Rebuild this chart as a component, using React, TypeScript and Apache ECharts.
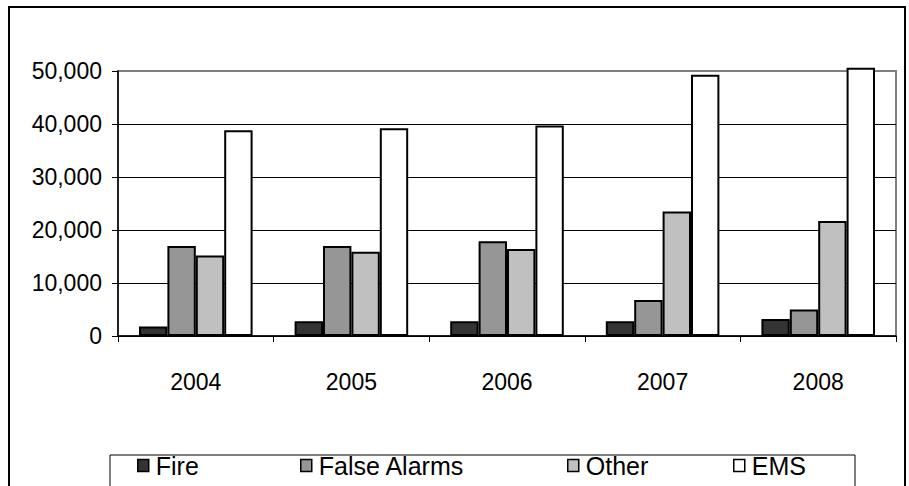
import React, { useEffect, useRef } from "react";
import * as echarts from "echarts";

const categories = ["2004", "2005", "2006", "2007", "2008"];
const fire = [1800, 2800, 2800, 2800, 3200];
const falseAlarms = [17000, 17000, 17900, 6800, 5000];
const other = [15200, 15900, 16400, 23500, 21700];
const ems = [38800, 39200, 39700, 49300, 50600];
const seriesNames = ["Fire", "False Alarms", "Other", "EMS"];
const seriesColors = ["#333333", "#969696", "#c0c0c0", "#ffffff"];
const yTicks = [0, 10000, 20000, 30000, 40000, 50000];

const FONT = "Arial, 'Liberation Sans', sans-serif";

export default function App() {
  const ref = useRef<HTMLDivElement>(null);
  useEffect(() => {
    if (!ref.current) return;
    const chart = echarts.init(ref.current, null, { renderer: "svg" });
    const values = [fire, falseAlarms, other, ems];
    const legendLefts = [137, 300, 567, 733];
    chart.setOption({
      animation: false,
      backgroundColor: "#ffffff",
      textStyle: { fontFamily: FONT },
      grid: {
        left: 118,
        right: 13,
        top: 71,
        bottom: 150,
        show: true,
        borderColor: "#808080",
        borderWidth: 2,
        backgroundColor: "transparent",
      },
      legend: seriesNames.map((n, i) => ({
        data: [n],
        left: legendLefts[i],
        top: 453,
        padding: 0,
        itemWidth: 11,
        itemHeight: 12,
        itemGap: 6,
        icon: "rect",
        textStyle: { fontSize: 25, color: "#000", fontFamily: FONT, padding: [0, 0, 0, 2] },
        itemStyle: { borderColor: "#000", borderWidth: 1.5 },
      })),
      xAxis: {
        type: "category",
        data: categories,
        axisLine: { lineStyle: { color: "#000", width: 1.5 } },
        axisTick: { show: true, length: 6, lineStyle: { color: "#000" } },
        axisLabel: { fontSize: 23, color: "#000", margin: 34, fontFamily: FONT },
        splitLine: { show: false },
      },
      yAxis: {
        type: "value",
        min: yTicks[0],
        max: yTicks[yTicks.length - 1],
        interval: 10000,
        axisLine: { show: true, lineStyle: { color: "#000", width: 1.5 } },
        axisTick: { show: true, length: 6, lineStyle: { color: "#000" } },
        axisLabel: {
          fontSize: 23,
          color: "#000",
          margin: 16,
          fontFamily: FONT,
          formatter: (v: number) => v.toLocaleString("en-US"),
        },
        splitLine: {
          show: true,
          lineStyle: {
            color: ["#000", "#000", "#000", "#000", "#000", "#808080"],
            width: 1,
          },
        },
      },
      series: seriesNames.map((n, i) => ({
        name: n,
        type: "bar",
        data: values[i],
        barGap: "0%",
        barCategoryGap: "27%",
        clip: false,
        itemStyle: { color: seriesColors[i], borderColor: "#000", borderWidth: 2 },
      })),
      graphic: [
        {
          type: "rect",
          shape: { x: 9, y: 7, width: 896, height: 520 },
          style: { fill: "none", stroke: "#000", lineWidth: 2 },
          silent: true,
          z: 100,
        },
        {
          type: "rect",
          shape: { x: 110, y: 455, width: 745, height: 60 },
          style: { fill: "none", stroke: "#000", lineWidth: 1 },
          silent: true,
          z: 100,
        },
      ],
    });
    return () => chart.dispose();
  }, []);
  return (
    <div
      ref={ref}
      style={{ position: "fixed", left: 0, top: 0, width: 909, height: 486 }}
    />
  );
}
